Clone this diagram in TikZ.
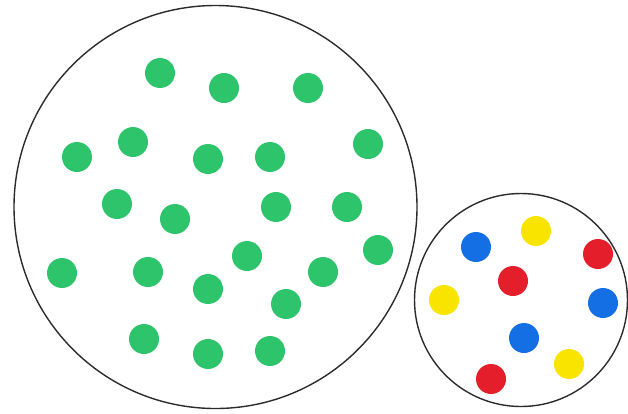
\documentclass[tikz,border=0pt]{standalone}
\usetikzlibrary{positioning}
\definecolor{cgreen}{HTML}{2EC46C}
\definecolor{cblue}{HTML}{136FE3}
\definecolor{cred}{HTML}{E41E2A}
\definecolor{cyellow}{HTML}{F9E400}
\definecolor{cgrey}{HTML}{2B2B2B}
\tikzset{
  every picture/.style={x=1pt, y=-1pt},
  ring/.style={draw=cgrey, line width=1.4pt, circle, inner sep=0pt, minimum size=#1},
  dot/.style={fill=#1, circle, inner sep=0pt, minimum size=30pt},
  dot/.default=cgreen,
}

\begin{document}
\begin{tikzpicture}
  \useasboundingbox (0,0) rectangle (628,413);
  \node[ring=403pt] (big) at (215.5,207) {};
  \node[ring=213pt] (small) at (521,300) {};
  % green dots in the large circle
  \foreach \x/\y [count=\i] in {160/73, 224/88, 308/88, 133/142, 77/157, 208/159,
      270/157, 368/144, 117/204, 175/219, 276/207, 347/207, 62/273, 148/272,
      247/256, 378/250, 323/272, 208/289, 286/304, 144/339, 208/354, 270/351}
    \node[dot] (g\i) at (\x,\y) {};
  % coloured dots in the small circle
  \foreach \x/\y/\c [count=\i] in {476/247/cblue, 536/231/cyellow, 598/254/cred,
      444/300/cyellow, 513/281/cred, 603/303/cblue, 524/338/cblue,
      569/364/cyellow, 491/379/cred}
    \node[dot=\c] (m\i) at (\x,\y) {};
\end{tikzpicture}
\end{document}
